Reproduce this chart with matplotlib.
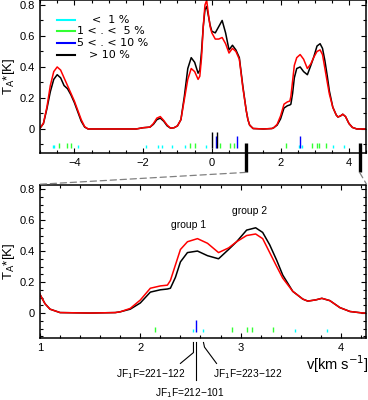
import matplotlib.pyplot as plt
from matplotlib.patches import ConnectionPatch
from matplotlib.ticker import MultipleLocator, FuncFormatter

plt.rcParams['font.family'] = ['Liberation Sans', 'DejaVu Sans']

# spectrum: velocity (km/s) and antenna temperature (K), two fits
vel = [-5.0, -4.9, -4.8, -4.7, -4.6, -4.5, -4.4, -4.3, -4.2, -4.1, -4.0, -3.9, -3.8, -3.7,
       -3.6, -3.0, -2.5, -2.2, -2.0, -1.8, -1.7, -1.6, -1.5, -1.4, -1.3, -1.2, -1.1, -1.0,
       -0.9, -0.8, -0.7, -0.6, -0.5, -0.4, -0.35, -0.3, -0.25, -0.2, -0.15, -0.1, -0.05, 0.0,
       0.1, 0.2, 0.3, 0.4, 0.5, 0.6, 0.7, 0.8, 0.9, 1.0, 1.05, 1.1, 1.2, 1.5, 1.75, 1.8,
       1.9, 2.0, 2.1, 2.2, 2.27, 2.3, 2.35, 2.4, 2.47, 2.57, 2.67, 2.78, 2.88, 2.96, 3.06,
       3.15, 3.22, 3.29, 3.36, 3.42, 3.52, 3.62, 3.67, 3.75, 3.81, 3.89, 3.99, 4.09, 4.22, 4.5]
t_black = [0.005, 0.035, 0.13, 0.24, 0.32, 0.35, 0.33, 0.28, 0.26, 0.22, 0.17, 0.11, 0.05, 0.012,
           0.0, 0.0, 0.0, 0.0, 0.008, 0.012, 0.03, 0.06, 0.07, 0.05, 0.02, 0.005, 0.008, 0.02,
           0.06, 0.21, 0.39, 0.46, 0.43, 0.36, 0.38, 0.50, 0.66, 0.77, 0.79, 0.73, 0.67, 0.63,
           0.62, 0.66, 0.70, 0.62, 0.51, 0.54, 0.51, 0.46, 0.28, 0.12, 0.06, 0.025, 0.003, 0.0, 0.003, 0.008,
           0.025, 0.065, 0.135, 0.15, 0.155, 0.16, 0.23, 0.33, 0.39, 0.40, 0.37, 0.35, 0.41, 0.46, 0.535,
           0.55, 0.52, 0.44, 0.34, 0.245, 0.14, 0.09, 0.077, 0.085, 0.095, 0.08, 0.035, 0.01, 0.0, 0.0]
t_red = [0.005, 0.037, 0.14, 0.28, 0.37, 0.40, 0.38, 0.33, 0.28, 0.23, 0.18, 0.12, 0.06, 0.015,
         0.0, 0.0, 0.0, 0.0, 0.008, 0.012, 0.035, 0.07, 0.08, 0.055, 0.025, 0.005, 0.008, 0.02,
         0.06, 0.19, 0.32, 0.39, 0.37, 0.32, 0.34, 0.46, 0.66, 0.80, 0.83, 0.74, 0.66, 0.62,
         0.58, 0.58, 0.59, 0.55, 0.49, 0.52, 0.50, 0.45, 0.27, 0.12, 0.06, 0.025, 0.003, 0.0, 0.003, 0.008,
         0.03, 0.084, 0.16, 0.175, 0.18, 0.21, 0.31, 0.41, 0.46, 0.48, 0.45, 0.39, 0.42, 0.46, 0.50,
         0.51, 0.48, 0.39, 0.30, 0.225, 0.14, 0.09, 0.077, 0.085, 0.095, 0.08, 0.035, 0.01, 0.0, 0.0]

# hyperfine components, grouped by relative intensity
comp_cyan = [-4.63, -4.59, -3.90, -1.93, -1.56, -1.46, -1.15, -0.78, -0.17, 2.53, 2.63, 3.54, 3.86]
comp_green = [-4.45, -4.22, -4.11, -0.64, -0.49, 0.25, 0.54, 0.64, 2.15, 2.91, 3.06, 3.11, 3.32]
comp_blue = [0.13, 0.74, 2.56]
comp_black = [0.0, 0.15]
legend_labels = ['<  1 %', '1 < . <  5 %', '5 < . < 10 %', '> 10 %']

groups = [('group 1', 2.48, 0.57), ('group 2', 3.09, 0.66)]

fig = plt.figure(figsize=(3.68, 4.0), dpi=100)
ax1 = fig.add_axes([0.1087, 0.6175, 0.8872, 0.3825])
ax2 = fig.add_axes([0.1087, 0.155, 0.8872, 0.3825])

base = -0.125
sticks = [(comp_cyan, '#00ffff', 0.022), (comp_green, '#33ff33', 0.037),
          (comp_blue, '#0000ff', 0.08), (comp_black, 'black', 0.105)]

for ax in (ax1, ax2):
    ax.plot(vel, t_black, color='black', lw=1.1)
    ax.plot(vel, t_red, color='red', lw=1.1)
    for pos, col, h in sticks:
        ax.vlines(pos, base, base + h, color=col, lw=1.0)
    ax.tick_params(which='both', direction='in', top=True, right=True,
                   labelsize=8, width=0.8)
    ax.tick_params(which='major', length=3.5)
    ax.tick_params(which='minor', length=2)
    for s in ax.spines.values():
        s.set_linewidth(1.1)
    ax.yaxis.set_major_locator(MultipleLocator(0.2))
    ax.yaxis.set_major_formatter(FuncFormatter(lambda y, p: '0' if abs(y) < 1e-9 else f'{y:.1f}'))
    ax.set_ylabel('T$_{\\rm A}$*[K]', fontsize=9.5, labelpad=2)

ax1.set_xlim(-5, 4.5)
ax1.set_ylim(-0.155, 0.832)
ax1.xaxis.set_major_locator(MultipleLocator(2))
ax1.xaxis.set_minor_locator(MultipleLocator(0.5))
ax1.yaxis.set_minor_locator(MultipleLocator(0.1))
ax1.xaxis.set_major_formatter(FuncFormatter(lambda x, p: f'{x:.0f}'.replace('-', '\u2212')))

ax2.set_xlim(1, 4.255)
ax2.set_ylim(-0.161, 0.826)
ax2.xaxis.set_major_locator(MultipleLocator(1))
ax2.xaxis.set_minor_locator(MultipleLocator(0.2))
ax2.yaxis.set_minor_locator(MultipleLocator(0.05))

# legend drawn by hand, top-left of the upper panel
leg_cols = ['#00ffff', '#33ff33', '#0000ff', 'black']
leg_y = [0.869, 0.797, 0.719, 0.641]
leg_tx = [0.160, 0.113, 0.113, 0.150]
for lab, col, yy, tx in zip(legend_labels, leg_cols, leg_y, leg_tx):
    ax1.plot([0.052, 0.107], [yy, yy], color=col, lw=1.5, transform=ax1.transAxes)
    ax1.text(tx, yy, lab, transform=ax1.transAxes, fontsize=8, va='center', ha='left',
             family='DejaVu Sans')

# zoom markers and connectors
for xb in (1.0, 4.3):
    ax1.plot([xb, xb], [-0.09, -0.28], color='black', lw=2.4, clip_on=False,
             solid_capstyle='butt')
for xb, xa in ((1.0, 0.0), (4.3, 1.0)):
    con = ConnectionPatch(xyA=(xb, -0.28), coordsA=ax1.transData,
                          xyB=(xa, 1.005), coordsB=ax2.transAxes,
                          color='gray', lw=0.9, ls=(0, (5, 3)))
    fig.add_artist(con)

for name, gx, gy in groups:
    ax2.text(gx, gy, name, fontsize=7.5, ha='center', va='center')

# transition labels under the lower panel
kw = dict(color='black', lw=0.8, clip_on=False)
ax2.plot([2.53, 2.53, 2.40], [-0.19, -0.255, -0.325], **kw)
ax2.plot([2.56, 2.56], [-0.19, -0.435], **kw)
ax2.plot([2.63, 2.64, 2.76], [-0.19, -0.22, -0.325], **kw)
ax2.text(2.10, -0.395, 'JF$_1$F=221\u2212122', fontsize=7.3, ha='center', va='center')
ax2.text(3.07, -0.395, 'JF$_1$F=223\u2212122', fontsize=7.3, ha='center', va='center')
ax2.text(2.49, -0.515, 'JF$_1$F=212\u2212101', fontsize=7.3, ha='center', va='center')
ax2.text(4.28, -0.33, 'v[km s$^{-1}$]', fontsize=10.5, ha='right', va='center')

fig.savefig('out.png', dpi=100)
